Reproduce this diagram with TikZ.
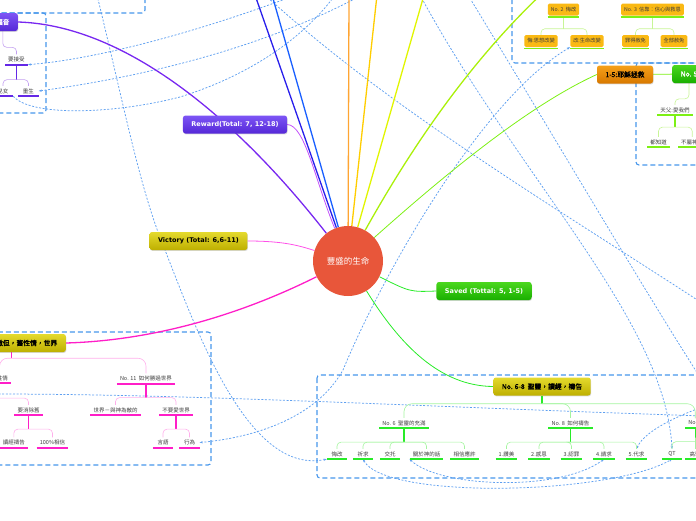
\documentclass[tikz,border=0pt]{standalone}
\usepackage{fontspec}
\setmainfont{Noto Sans CJK TC}[AutoFakeBold=2]
\newfontfamily\enfont{DejaVu Sans}
\usetikzlibrary{backgrounds, shadows, arrows.meta}
\newcommand{\fsz}[1]{\fontsize{#1}{#1}\selectfont}
\definecolor{ctrred}{RGB}{232,86,58}
\definecolor{relblue}{RGB}{95,160,240}
\definecolor{bndblue}{RGB}{70,150,235}
\definecolor{purp}{RGB}{100,40,230}
\definecolor{purp2}{RGB}{120,40,240}
\definecolor{lpurp}{RGB}{195,160,240}
\definecolor{lpm}{RGB}{195,80,250}
\definecolor{mag}{RGB}{255,30,200}
\definecolor{mag2}{RGB}{255,80,232}
\definecolor{lmag}{RGB}{255,175,235}
\definecolor{grn}{RGB}{40,235,40}
\definecolor{lgrn}{RGB}{165,245,160}
\definecolor{ygrn}{RGB}{125,240,20}
\definecolor{lygrn}{RGB}{200,245,150}
\definecolor{blu1}{RGB}{40,30,235}
\definecolor{blu2}{RGB}{25,95,255}
\definecolor{orng}{RGB}{255,165,50}
\definecolor{goldy}{RGB}{255,205,0}
\definecolor{lyel}{RGB}{225,245,0}
\definecolor{yg}{RGB}{170,240,10}
\definecolor{txt}{RGB}{60,60,60}
\tikzset{
  ctr/.style = {circle, fill=ctrred, text=white, minimum size=70pt, inner sep=0pt,
    font=\fsz{8.5}},
  mt/.style = {rounded corners=2.5pt, inner xsep=8.5pt, inner ysep=0pt, minimum height=18pt,
    drop shadow={shadow xshift=0.5pt, shadow yshift=-0.9pt, opacity=0.3}},
  en/.style = {font=\enfont\bfseries\fsz{6.5}},
  pbox/.style = {mt, top color={rgb,255:red,125;green,85;blue,245},
    bottom color={rgb,255:red,85;green,40;blue,215}, text=white, en},
  ybox/.style = {mt, top color={rgb,255:red,228;green,218;blue,45},
    bottom color={rgb,255:red,190;green,175;blue,0}, text=black, font=\bfseries\fsz{6.8}},
  gbox/.style = {mt, top color={rgb,255:red,75;green,215;blue,30},
    bottom color={rgb,255:red,25;green,175;blue,0}, text=white, font=\bfseries\fsz{6.8}},
  obox/.style = {mt, top color={rgb,255:red,245;green,160;blue,25},
    bottom color={rgb,255:red,215;green,120;blue,0}, text=black, font=\bfseries\fsz{6.8}},
  sob/.style = {fill={rgb,255:red,250;green,185;blue,20}, rounded corners=1.5pt,
    inner xsep=3pt, inner ysep=0pt, minimum height=12pt, text=txt, font=\fsz{5.2},
    append after command={([yshift=-1.4pt]\tikzlastnode.south west)
      edge[draw=ygrn, line width=1.6pt] ([yshift=-1.4pt]\tikzlastnode.south east)}},
  tp/.style = {text=txt, font=\fsz{5.5}, inner xsep=3pt, inner ysep=2.4pt, minimum width=20pt,
    append after command={(\tikzlastnode.south west)
      edge[draw=#1, line width=1.8pt] (\tikzlastnode.south east)}},
  cn/.style = {draw=#1, line width=1.3pt},
  cnt/.style = {draw=#1, line width=0.8pt},
  stem/.style = {draw=#1, line width=1.1pt},
  br/.style = {draw=#1, line width=0.6pt, rounded corners=4pt},
  rel/.style = {draw=relblue, line width=0.75pt, dash pattern=on 2pt off 1.6pt},
  bnd/.style = {draw=bndblue, line width=1.1pt, dash pattern=on 5pt off 3pt, rounded corners=3pt}
}

\begin{document}
\begin{tikzpicture}[x=1pt, y=-1pt]
  \useasboundingbox (0,0) rectangle (696,520);
  \clip (0,0) rectangle (696,520);
  \node [ctr] (life) at (348,261) {豐盛的生命};
  \node [pbox] (reward) at (235,124.5) {Reward(Total: 7, 12-18)};
  \node [ybox, en] (victory) at (198.5,241) {Victory (Total: 6,6-11)};
  \node [gbox, en] (saved) at (484,291) {Saved (Tottal: 5, 1-5)};
  \node [ybox] (spirit) at (542,386.5) {No. 6-8\ \ 聖靈，讀經，禱告};
  \node [obox] (jesus) at (625,74.5) {1-5:耶穌拯救};
  \node [gbox, anchor=west] (no5) at (672,74) {No. 5};
  \node [pbox, anchor=east, font=\bfseries\fsz{6.5}] (gospel) at (18,22) {福音};
  \node [ybox, anchor=east] (satan) at (66,343) {No. 9-11\ \ 撒但，舊性情，世界};

  \node [sob] (no2) at (563.5,9.5) {No. 2\ \ 悔改};
  \node [sob] (no3) at (652.5,9.5) {No. 3\ \ 信靠：信心與救恩};
  \node [sob] (mind) at (541,41) {悔:思想改變};
  \node [sob] (lifechg) at (587,41) {改:生命改變};
  \node [sob] (forgv) at (635.5,41) {罪得赦免};
  \node [sob] (allfg) at (674,41) {全部赦免};

  \node [tp=ygrn] (father) at (675,110) {天父:愛我們};
  \node [tp=ygrn] (know) at (658.5,142) {都知道};
  \node [tp=ygrn, anchor=west] (notgod) at (678,142) {不屬神的};

  \node [tp=purp] (accept) at (16.5,59.5) {要接受};
  \node [tp=purp] (kids) at (3,91) {兒女};
  \node [tp=purp] (reborn) at (28.5,91) {重生};

  \node [tp=grn] (fulln) at (404,423) {No. 6\ \ 聖靈的充滿};
  \node [tp=grn] (howpray) at (570.5,423) {No. 8\ \ 如何禱告};
  \node [tp=grn, anchor=west] (no7) at (685,423) {No. 7};
  \foreach \nm/\lbl/\xx in {hui/悔改/337, qiu/祈求/363, tuo/交托/390,
      word/關於神的話/426.5, prom/相信應許/464.5}
    \node [tp=grn] (\nm) at (\xx,454) {\lbl};
  \foreach \lbl [count=\i] in {1.讚美, 2.感恩, 3.認罪, 4.請求, 5.代求}
    \node [tp=grn] (p\i) at (474+32.5*\i,454) {\lbl};
  \node [tp=grn] (qt) at (672,454) {QT};
  \node [tp=grn, anchor=west] (loud) at (685,454) {高聲};

  \node [tp=mag, anchor=east] (oldnat) at (11,378) {舊性情};
  \node [tp=mag] (world) at (146,378.5) {No. 11\ \ 如何勝過世界};
  \node [tp=mag] (enemy) at (115.5,410) {世界－與神為敵的};
  \node [tp=mag] (nolove) at (176,410) {不要愛世界};
  \node [tp=mag] (defeat) at (28.5,410) {要消除舊};
  \node [tp=mag, anchor=east] (bible) at (28,442.5) {讀經禱告};
  \node [tp=mag] (believe) at (52.5,442.5) {100\%相信};
  \node [tp=mag] (words) at (163,442.5) {言語};
  \node [tp=mag] (deeds) at (189.5,442.5) {行為};

  \begin{pgfonlayer}{background}
    \draw [bnd] (-10,-20) rectangle (145,13);
    \draw [bnd] (-10,13) rectangle (46,113);
    \draw [bnd] (512,-20) rectangle (710,63);
    \draw [bnd] (636,63) rectangle (710,165);
    \draw [bnd] (-10,332) rectangle (211,465);
    \draw [bnd] (317,375) rectangle (710,478);

    \coordinate (r1) at (296,-5);
    \coordinate (r2) at (362,-5);
    \coordinate (r3) at (335,-5);
    \coordinate (r4) at (97,-5);
    \coordinate (r5a) at (265,-5);
    \coordinate (r5b) at (705,305);
    \coordinate (r6) at (420,-5);
    \coordinate (r7a) at (468,-5);
    \coordinate (r7b) at (705,385);
    \coordinate (r9a) at (-5,394);
    \coordinate (r9b) at (705,416);
    \coordinate (r12) at (705,406);
    \draw [rel, -{Stealth[length=3pt]}] (r1) .. controls (190,35) and (90,60) .. (accept.south east);
    \draw [rel, -{Stealth[length=3pt]}] (r2) .. controls (250,55) and (120,80) .. (reborn.east);
    \draw [rel] (kids.south east) .. controls (30,116) and (110,115) .. (180,97)
      .. controls (260,72) and (310,30) .. (r3);
    \draw [rel, -{Stealth[length=3pt]}] (r4) .. controls (125,110) and (140,190) .. (165,250)
      .. controls (200,340) and (250,475) .. (hui.south west);
    \draw [rel] (r5a) .. controls (390,110) and (560,210) .. (r5b);
    \draw [rel, -{Stealth[length=3pt]}] (r6) .. controls (520,180) and (665,320) .. (qt.north);
    \draw [rel] (r7a) .. controls (550,130) and (650,300) .. (r7b);
    \draw [rel, {Stealth[length=3pt]}-{Stealth[length=3pt]}] (lifechg.south west)
      .. controls (480,100) and (380,280) .. (343,370)
      .. controls (315,420) and (250,438) .. (deeds.east);
    \draw [rel] (r9a) .. controls (200,394) and (450,408) .. (r9b);
    \draw [rel, {Stealth[length=3pt]}-{Stealth[length=3pt]}] (p4.south)
      .. controls (560,492) and (440,488) .. (word.south west);
    \draw [rel, {Stealth[length=3pt]}-{Stealth[length=3pt]}] (qiu.south)
      .. controls (385,500) and (610,495) .. (qt.south);
    \draw [rel, -{Stealth[length=3pt]}] (r12) .. controls (680,415) and (645,430) .. (p5.north);

    \coordinate (tb1) at (255,-5);
    \coordinate (tb2) at (272,-5);
    \coordinate (tor) at (349,-5);
    \coordinate (tgo) at (377,-5);
    \coordinate (tly) at (424,-5);
    \coordinate (tyg) at (548,-12);
    \draw [cn=purp2] (life) .. controls (230,110) and (120,25) .. (gospel.east);
    \draw [cnt=lpm] (life) .. controls (315,180) and (305,125) .. (reward.east);
    \draw [cn=blu1] (life) -- (tb1);
    \draw [cn=blu2] (life) -- (tb2);
    \draw [cn=orng] (life) -- (tor);
    \draw [cn=goldy] (life) -- (tgo);
    \draw [cn=lyel] (life) -- (tly);
    \draw [cn=yg] (life) .. controls (410,150) and (470,60) .. (tyg);
    \draw [cnt=ygrn] (life) .. controls (450,170) and (530,105) .. (jesus.west);
    \draw [cnt=grn] (life) .. controls (410,292) .. (saved.west);
    \draw [cnt=grn] (life) .. controls (400,345) and (440,386) .. (spirit.west);
    \draw [cn=mag] (life) .. controls (260,305) and (170,340) .. (satan.east);
    \draw [cnt=mag2] (life) .. controls (300,246) and (285,241) .. (victory.east);
    \draw [cnt=ygrn] (jesus) -- (no5);

    \draw [stem=lygrn] (no2.south) -- ++(0,13) coordinate (no2j);
    \foreach \nm in {mind, lifechg} \draw [br=lygrn] (no2j) -| (\nm.north);
    \draw [stem=lygrn] (no3.south) -- ++(0,13) coordinate (no3j);
    \foreach \nm in {forgv, allfg} \draw [br=lygrn] (no3j) -| (\nm.north);
    \draw [br=lygrn] (no5.south) |- ([yshift=6pt]father.north) -- (father.north);
    \draw [stem=ygrn] (father.south) -- ++(0,12) coordinate (fatj);
    \foreach \nm in {know, notgod} \draw [br=lygrn] (fatj) -| (\nm.north);

    \draw [br=lpurp] (gospel.south) |- ([yshift=7pt]accept.north) -- (accept.north);
    \draw [stem=purp] (accept.south) -- ++(0,15) coordinate (accj);
    \foreach \nm in {kids, reborn} \draw [br=lpurp] (accj) -| (\nm.north);

    \draw [stem=grn] (spirit.south) -- ++(0,8) coordinate (spj);
    \foreach \nm in {fulln, howpray, no7} \draw [br=lgrn, rounded corners=8pt] (spj) -| (\nm.north);
    \draw [stem=grn] (fulln.south) -- ++(0,14) coordinate (fulj);
    \foreach \nm in {hui, qiu, tuo, word, prom} \draw [br=lgrn] (fulj) -| (\nm.north);
    \draw [stem=grn] (howpray.south) -- ++(0,14) coordinate (hpj);
    \foreach \i in {1,...,5} \draw [br=lgrn] (hpj) -| (p\i.north);
    \draw [stem=grn] (no7.south) -- ++(0,14) coordinate (n7j);
    \foreach \nm in {qt, loud} \draw [br=lgrn] (n7j) -| (\nm.north);

    \draw [stem=mag] (satan.south) -- ++(0,6) coordinate (satj);
    \foreach \nm in {oldnat, world} \draw [br=lmag, rounded corners=8pt] (satj) -| (\nm.north);
    \draw [stem=mag] (oldnat.south) -- ++(0,15) coordinate (oldj);
    \draw [br=lmag] (oldj) -| (defeat.north);
    \draw [stem=mag] (world.south) -- ++(0,14) coordinate (wj);
    \foreach \nm in {enemy, nolove} \draw [br=lmag] (wj) -| (\nm.north);
    \draw [stem=mag] (nolove.south) -- ++(0,14) coordinate (nlj);
    \foreach \nm in {words, deeds} \draw [br=lmag] (nlj) -| (\nm.north);
    \draw [stem=mag] (defeat.south) -- ++(0,14) coordinate (dfj);
    \foreach \nm in {bible, believe} \draw [br=lmag] (dfj) -| (\nm.north);
  \end{pgfonlayer}
\end{tikzpicture}
\end{document}
